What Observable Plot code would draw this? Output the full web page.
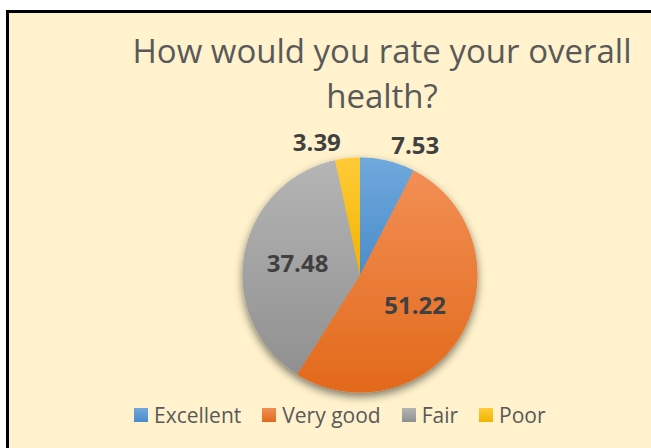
<!DOCTYPE html>
<html><head><meta charset="utf-8">
<script src="https://cdn.jsdelivr.net/npm/d3@7"></script>
<script src="https://cdn.jsdelivr.net/npm/@observablehq/plot@0.6"></script>
<style>
html,body{margin:0;padding:0;background:#fff;width:651px;height:448px;overflow:hidden;position:relative}
#frame{position:absolute;left:6px;top:10px;width:700px;height:500px;background:#FFF2CC;border-left:3px solid #000;border-top:3px solid #000;}
#chart{position:absolute;left:0;top:0}
#title{position:absolute;left:82px;width:600px;top:28px;text-align:center;font-family:"Open Sans";font-size:33px;line-height:45px;color:#595959;white-space:nowrap}
#legend{position:absolute;left:134px;top:398px}
.lg-swatch{margin-right:21px !important}
.lg-swatch svg{margin-right:6px !important}
</style></head><body>
<div id="frame"></div>
<div id="chart"></div>
<div id="title">How would you rate your overall<br>health?</div>
<div id="legend"></div>
<script>
// ---- data ----
const categories = ["Excellent", "Very good", "Fair", "Poor"];
const values = [7.53, 51.22, 37.48, 3.39];
// ---- styles ----
const topColors = ["#70A9DD", "#F28F55", "#B5B5B5", "#FFCB3A"];
const bottomColors = ["#4A8CCB", "#E2691A", "#909090", "#F0B400"];

const total = d3.sum(values);
let acc = 0;
const slices = categories.map((c, i) => {
  const a0 = acc / total * 2 * Math.PI;
  acc += values[i];
  const a1 = acc / total * 2 * Math.PI;
  return {c, v: values[i], a0, a1, mid: (a0 + a1) / 2, frac: values[i] / total};
});
// polygon outline of each slice (geometry from the slice angles)
const pts = [];
for (const s of slices) {
  pts.push({c: s.c, x: 0, y: 0});
  const n = Math.max(2, Math.ceil((s.a1 - s.a0) / (Math.PI / 180)));
  for (let k = 0; k <= n; k++) {
    const a = s.a0 + (s.a1 - s.a0) * k / n;
    pts.push({c: s.c, x: Math.sin(a), y: Math.cos(a)});
  }
  pts.push({c: s.c, x: 0, y: 0});
}
const inner = slices.filter(s => s.frac >= 0.1).map(s => ({...s, x: 0.54 * Math.sin(s.mid), y: 0.54 * Math.cos(s.mid)}));
const outer = slices.filter(s => s.frac < 0.1).map(s => ({...s, x: 1.13 * Math.sin(s.mid), y: 1.125 * Math.cos(s.mid)}));
const outerR = outer.filter(s => s.x >= 0);
const outerL = outer.filter(s => s.x < 0);

const urls = categories.map((c, i) => `url(#grad${i})`);
const labelStyle = {text: d => d.v.toFixed(2), fontSize: 24, fontWeight: "bold", fill: "#404040"};

const plot = Plot.plot({
  width: 651, height: 448,
  marginLeft: 242, marginRight: 174, marginTop: 157, marginBottom: 56,
  x: {domain: [-1, 1], axis: null},
  y: {domain: [-1, 1], axis: null},
  color: {type: "ordinal", domain: categories, range: urls},
  style: {background: "transparent", fontFamily: "Open Sans", overflow: "visible"},
  marks: [
    Plot.line(pts, {x: "x", y: "y", z: "c", fill: "c", stroke: "none", curve: "linear"}),
    Plot.text(inner, {x: "x", y: "y", ...labelStyle}),
    Plot.text(outerR, {x: "x", y: "y", textAnchor: "start", ...labelStyle}),
    Plot.text(outerL, {x: "x", y: "y", textAnchor: "end", dx: -5, ...labelStyle})
  ]
});

// gradient + shadow definitions
const ns = "http://www.w3.org/2000/svg";
const defs = document.createElementNS(ns, "defs");
categories.forEach((c, i) => {
  const g = document.createElementNS(ns, "linearGradient");
  g.setAttribute("id", `grad${i}`);
  g.setAttribute("x1", "0"); g.setAttribute("y1", "0");
  g.setAttribute("x2", "0"); g.setAttribute("y2", "1");
  [[0, topColors[i]], [1, bottomColors[i]]].forEach(([o, col]) => {
    const st = document.createElementNS(ns, "stop");
    st.setAttribute("offset", o);
    st.setAttribute("stop-color", col);
    g.appendChild(st);
  });
  defs.appendChild(g);
});
const f = document.createElementNS(ns, "filter");
f.setAttribute("id", "shadow");
f.setAttribute("x", "-20%"); f.setAttribute("y", "-20%");
f.setAttribute("width", "140%"); f.setAttribute("height", "140%");
const ds = document.createElementNS(ns, "feDropShadow");
ds.setAttribute("dx", "0"); ds.setAttribute("dy", "4");
ds.setAttribute("stdDeviation", "4");
ds.setAttribute("flood-color", "#000");
ds.setAttribute("flood-opacity", "0.5");
f.appendChild(ds);
defs.appendChild(f);
plot.insertBefore(defs, plot.firstChild);
d3.select(plot).select('g[aria-label="line"]').attr("filter", "url(#shadow)");
document.getElementById("chart").appendChild(plot);

const legend = Plot.legend({
  color: {type: "ordinal", domain: categories, range: urls},
  swatchSize: 14,
  className: "lg",
  style: {fontFamily: "Open Sans", fontSize: "21px", color: "#595959", background: "transparent"}
});
document.getElementById("legend").appendChild(legend);
</script>
</body></html>
